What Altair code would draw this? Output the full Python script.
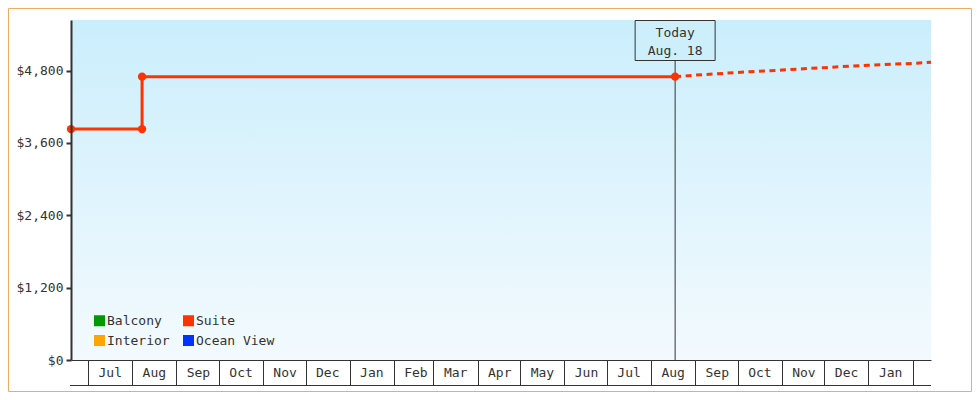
import altair as alt
import pandas as pd
from datetime import datetime, timezone

FONT = "DejaVu Sans Mono"
INK = "#333333"

# ---- data ----
# legend fills column by column: Balcony / Interior in column 1, Suite / Ocean View in column 2
series_names = ["Balcony", "Interior", "Suite", "Ocean View"]
series_colors = ["#009900", "#ffa500", "#ff3300", "#0033ff"]

suite_dates = ["2017-06-19", "2017-08-08", "2017-08-08", "2018-08-18"]
suite_prices = [3830, 3830, 4700, 4700]

forecast_dates = ["2018-08-18", "2018-09-01", "2018-10-01", "2018-11-01",
                  "2018-12-01", "2019-01-01", "2019-02-01", "2019-02-14"]
forecast_prices = [4700, 4725, 4770, 4810, 4850, 4890, 4920, 4940]

today_date = "2018-08-18"
today_label = ["Today", "Aug. 18"]

domain_start = (2017, 6, 19)
domain_end = (2019, 2, 14)
tick_months = [(2017, 7), (2017, 8), (2017, 9), (2017, 10), (2017, 11), (2017, 12),
               (2018, 1), (2018, 2), (2018, 3), (2018, 4), (2018, 5), (2018, 6),
               (2018, 7), (2018, 8), (2018, 9), (2018, 10), (2018, 11), (2018, 12),
               (2019, 1), (2019, 2)]
y_ticks = [0, 1200, 2400, 3600, 4800]
y_max = 5640

W, H = 860, 340


def dt(y, m, d):
    return alt.DateTime(year=y, month=m, date=d, utc=True)


suite_df = pd.DataFrame({"date": suite_dates, "price": suite_prices,
                         "series": "Suite", "idx": list(range(len(suite_dates)))})
forecast_df = pd.DataFrame({"date": forecast_dates, "price": forecast_prices,
                            "series": "Suite"})
today_df = pd.DataFrame({"date": [today_date], "label": ["\n".join(today_label)]})

last_tick_ms = int(datetime(tick_months[-1][0], tick_months[-1][1], 1,
                            tzinfo=timezone.utc).timestamp() * 1000)

x_scale = alt.Scale(type="utc", domain=[dt(*domain_start), dt(*domain_end)])
y_scale = alt.Scale(domain=[0, y_max], nice=False, zero=True)

x_axis = alt.Axis(
    values=[dt(y, m, 1) for (y, m) in tick_months],
    labelExpr=f"datum.value >= {last_tick_ms} ? '' : utcFormat(datum.value, '%b')",
    labelFont=FONT, labelFontSize=13, labelColor=INK,
    labelOffset=21.7, labelPadding=-19, labelAlign="center", labelBaseline="top",
    labelFlush=False, labelOverlap=False,
    tickSize=25, tickWidth=1, tickColor=INK,
    domainColor=INK, domainWidth=1, grid=False, zindex=1, title=None,
)
y_axis = alt.Axis(
    values=y_ticks, format="$,.0f",
    labelFont=FONT, labelFontSize=13, labelColor=INK, labelPadding=3,
    tickSize=5, tickWidth=2, tickColor=INK,
    domainColor=INK, domainWidth=2, grid=False, zindex=1, title=None,
)

one = alt.Data(values=[{}])

gradient = alt.LinearGradient(
    gradient="linear",
    stops=[alt.GradientStop(color="#cbeefc", offset=0),
           alt.GradientStop(color="#f3fafe", offset=1)],
    x1=0, x2=0, y1=0, y2=1,
)

bg = alt.Chart(one).mark_rect(fill=gradient).encode(
    x=alt.value(0), x2=alt.value(W), y=alt.value(0), y2=alt.value(H)
)

border = alt.Chart(one).mark_rect(fillOpacity=0, stroke="#eeaa66", strokeWidth=1).encode(
    x=alt.value(-62.5), x2=alt.value(900.5), y=alt.value(-11.5), y2=alt.value(371.5)
)

bottom_line = alt.Chart(one).mark_rule(color=INK, strokeWidth=1).encode(
    x=alt.value(-1), x2=alt.value(W), y=alt.value(H + 25.5)
)

x_enc = alt.X("date:T", scale=x_scale, axis=x_axis)
y_enc = alt.Y("price:Q", scale=y_scale, axis=y_axis)

today_rule = alt.Chart(today_df).mark_rule(color=INK, strokeWidth=1).encode(
    x=x_enc, y=alt.value(40), y2=alt.value(H)
)
today_box = alt.Chart(today_df).mark_rect(
    fill="#cdeffc", stroke=INK, strokeWidth=1, xOffset=-40, x2Offset=40
).encode(x="date:T", x2="date:T", y=alt.value(0.5), y2=alt.value(40.5))
today_text = alt.Chart(today_df).mark_text(
    font=FONT, fontSize=13, color=INK, lineBreak="\n", lineHeight=18,
    baseline="alphabetic", align="center"
).encode(x="date:T", y=alt.value(16.5), text="label:N")

suite_color = series_colors[series_names.index("Suite")]

suite_line = alt.Chart(suite_df).mark_line(color=suite_color, strokeWidth=3).encode(
    x=x_enc, y=y_enc, order="idx:Q"
)
forecast_line = alt.Chart(forecast_df).mark_line(
    color=suite_color, strokeWidth=3, strokeDash=[6, 4.5]
).encode(x=x_enc, y=y_enc)

points = alt.Chart(suite_df).mark_point(
    filled=True, size=70, opacity=1, shape="circle"
).encode(
    x=x_enc, y=y_enc,
    color=alt.Color(
        "series:N",
        scale=alt.Scale(domain=series_names, range=series_colors),
        legend=alt.Legend(
            orient="none", legendX=22, legendY=294, columns=2,
            symbolType="square", symbolSize=121, symbolStrokeWidth=0, symbolOpacity=1,
            labelFont=FONT, labelFontSize=13, labelColor=INK, labelOffset=1,
            rowPadding=6, columnPadding=12, padding=0, title=None,
        ),
    ),
)

chart = alt.layer(
    bg, bottom_line, today_rule, today_box, today_text,
    suite_line, forecast_line, points, border
).properties(
    width=W, height=H,
    autosize=alt.AutoSizeParams(type="none"),
    padding={"left": 63, "top": 12, "right": 41, "bottom": 32},
    background="white",
).configure_view(strokeWidth=0)

chart.save("out.html", embed_options={"renderer": "svg", "actions": False})
